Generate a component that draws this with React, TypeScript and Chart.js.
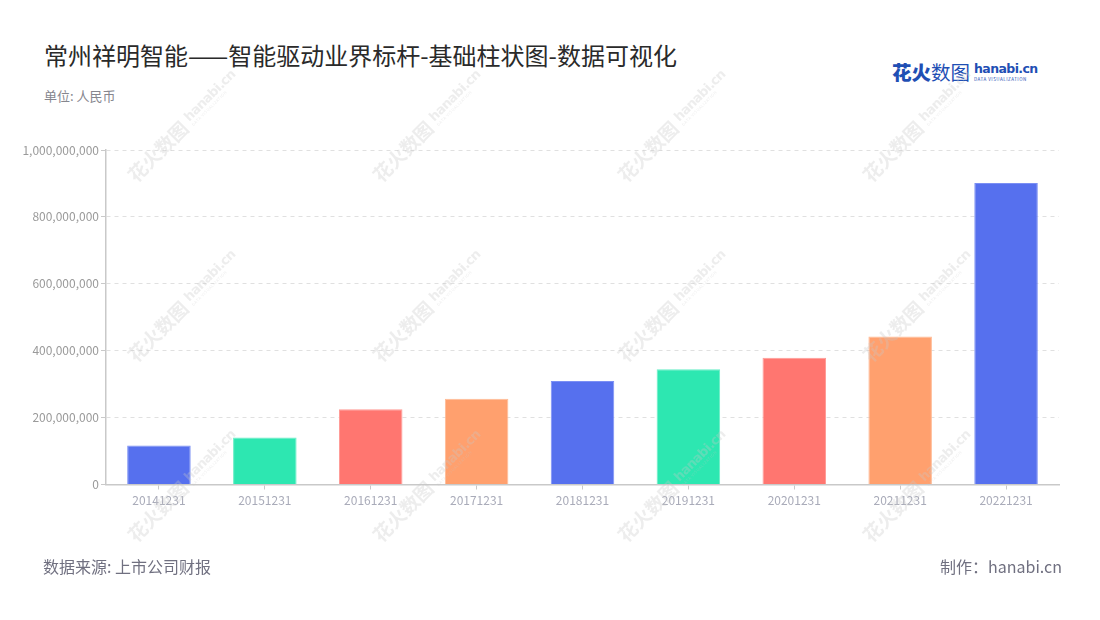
import React, { useEffect, useRef } from "react";
import { Chart, registerables } from "chart.js";

Chart.register(...registerables);

const categories = [
  "20141231", "20151231", "20161231", "20171231", "20181231",
  "20191231", "20201231", "20211231", "20221231",
];
const revenue = [
  116400000, 140300000, 224800000, 256700000, 309300000,
  344200000, 379000000, 442700000, 901500000,
];
const yTicks = { min: 0, max: 1000000000, step: 200000000 };

const palette = ["#5670EE", "#2DE7B1", "#FF7670", "#FFA06E"];
const paletteEdge = ["#7B8FF4", "#67EEC6", "#FF9A95", "#FFBB95"];

const FONT = '"Noto Sans CJK SC", "Noto Sans", sans-serif';

const wmCols = [182, 427, 672, 917];
const wmRows = [125, 305, 485];

const Watermark = ({ x, y }: { x: number; y: number }) => (
  <div
    style={{
      position: "absolute",
      left: x - 85,
      top: y - 12,
      width: 170,
      height: 24,
      transform: "rotate(-45deg)",
      display: "flex",
      alignItems: "center",
      justifyContent: "center",
      gap: 5,
      color: "rgba(200,200,200,0.32)",
      pointerEvents: "none",
      whiteSpace: "nowrap",
    }}
  >
    <span style={{ fontSize: 19, fontWeight: 700 }}>花火数图</span>
    <span style={{ display: "flex", flexDirection: "column", lineHeight: 1 }}>
      <span style={{ fontSize: 13, fontWeight: 700, fontFamily: "Verdana, DejaVu Sans, sans-serif", letterSpacing: -0.6 }}>hanabi.cn</span>
      <span style={{ fontSize: 4, letterSpacing: 0.5 }}>DATA VISUALIZATION</span>
    </span>
  </div>
);

const BarChart = () => {
  const chartRef = useRef<HTMLCanvasElement | null>(null);
  const chartInstanceRef = useRef<Chart | null>(null);

  useEffect(() => {
    const ctx = chartRef.current?.getContext("2d");
    if (!ctx) return;
    if (chartInstanceRef.current) chartInstanceRef.current.destroy();

    chartInstanceRef.current = new Chart(ctx, {
      type: "bar",
      data: {
        labels: categories,
        datasets: [
          {
            data: revenue,
            backgroundColor: revenue.map((_, i) => palette[i % palette.length]),
            borderColor: revenue.map((_, i) => paletteEdge[i % paletteEdge.length]),
            borderWidth: 1,
            barPercentage: 0.6,
            categoryPercentage: 1,
          },
        ],
      },
      options: {
        responsive: true,
        maintainAspectRatio: false,
        animation: false,
        layout: { padding: { left: 0, right: 41, top: 20, bottom: 0 } },
        plugins: { legend: { display: false }, tooltip: { enabled: false } },
        scales: {
          x: {
            afterFit: (s: any) => { s.height = 35.5; },
            grid: {
              offset: false,
              drawOnChartArea: false,
              drawTicks: true,
              tickLength: 5,
              tickColor: "#c9c9c9",
            },
            border: { color: "#c9c9c9", width: 1.5 },
            ticks: {
              padding: 4,
              color: "#a9abb9",
              font: { family: FONT, size: 12 },
              maxRotation: 0,
            },
          },
          y: {
            min: yTicks.min,
            max: yTicks.max,
            afterFit: (s: any) => { s.width = 106; },
            grid: {
              color: "#e0e0e0",
              tickLength: 5,
              tickColor: "#c9c9c9",
              tickBorderDash: [],
            } as any,
            border: { color: "#c9c9c9", width: 1.5, dash: [4, 4] },
            ticks: {
              stepSize: yTicks.step,
              padding: 2,
              color: "#9a9a9a",
              font: { family: FONT, size: 12 },
              callback: (v: any) => Number(v).toLocaleString("en-US"),
            },
          },
        },
      },
    });

    return () => {
      if (chartInstanceRef.current) {
        chartInstanceRef.current.destroy();
        chartInstanceRef.current = null;
      }
    };
  }, []);

  return (
    <div style={{ position: "absolute", left: 0, top: 130, width: 1100, height: 390 }}>
      <canvas ref={chartRef} style={{ width: "100%", height: "100%" }}></canvas>
    </div>
  );
};

const App = () => {
  return (
    <div
      style={{
        position: "fixed",
        left: 0,
        top: 0,
        width: 1100,
        height: 620,
        background: "#ffffff",
        fontFamily: FONT,
        overflow: "hidden",
      }}
    >
      <div style={{ position: "absolute", left: 44, top: 43, fontSize: 24, lineHeight: "24px", color: "#2a2a2a", whiteSpace: "nowrap" }}>
        常州祥明智能——智能驱动业界标杆-基础柱状图-数据可视化
      </div>
      <div style={{ position: "absolute", left: 44, top: 89, fontSize: 13, lineHeight: "13px", color: "#86868e" }}>
        单位: 人民币
      </div>

      <div style={{ position: "absolute", left: 892, top: 61, display: "flex", alignItems: "center", gap: 4, color: "#1f4fb4" }}>
        <span style={{ fontSize: 19.5, lineHeight: "22px", whiteSpace: "nowrap" }}>
          <span style={{ fontWeight: 900 }}>花火</span>
          <span style={{ fontWeight: 400 }}>数图</span>
        </span>
        <span style={{ display: "flex", flexDirection: "column", lineHeight: 1 }}>
          <span style={{ fontSize: 12.5, fontWeight: 700, fontFamily: "Verdana, DejaVu Sans, sans-serif", letterSpacing: -0.6 }}>hanabi.cn</span>
          <span style={{ fontSize: 4.5, letterSpacing: 0.5, marginTop: 1 }}>DATA VISUALIZATION</span>
        </span>
      </div>

      <BarChart />

      {wmCols.map((x) => wmRows.map((y) => <Watermark key={`${x}-${y}`} x={x} y={y} />))}

      <div style={{ position: "absolute", left: 43, top: 557, fontSize: 16, lineHeight: "18px", color: "#707080" }}>
        数据来源: 上市公司财报
      </div>
      <div style={{ position: "absolute", right: 38, top: 557, fontSize: 16, lineHeight: "18px", color: "#707080" }}>
        制作：hanabi.cn
      </div>
    </div>
  );
};

export default App;
